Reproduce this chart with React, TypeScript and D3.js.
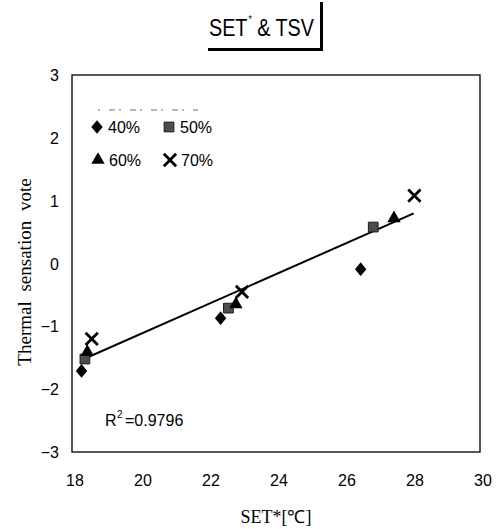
import * as d3 from 'd3';
import React from 'react';

// data
const humidity = ['40%', '50%', '60%', '70%'];
const set40 = [18.28, 22.37, 26.49];
const tsv40 = [-1.71, -0.87, -0.09];
const set50 = [18.38, 22.6, 26.86];
const tsv50 = [-1.52, -0.71, 0.58];
const set60 = [18.45, 22.82, 27.47];
const tsv60 = [-1.41, -0.65, 0.72];
const set70 = [18.58, 23.0, 28.07];
const tsv70 = [-1.2, -0.45, 1.08];
const xTicks = [18, 20, 22, 24, 26, 28, 30];
const yTicks = [-3, -2, -1, 0, 1, 2, 3];
// regression line
const fitSlope = 0.239;
const fitIntercept = -5.906;
const fitRange = [18.3, 28.05];
const rSquared = '0.9796';

const W = 501, H = 529;

// custom marker shapes
const diamond = {
  draw(ctx: any, size: number) {
    const r = Math.sqrt(size) / 2;
    ctx.moveTo(0, -r * 1.2);
    ctx.lineTo(r, 0);
    ctx.lineTo(0, r * 1.2);
    ctx.lineTo(-r, 0);
    ctx.closePath();
  },
};

const markerPath: Record<string, string> = {
  '40%': d3.symbol(diamond as any, 130)() as string,
  '50%': d3.symbol(d3.symbolSquare, 95)() as string,
  '60%': d3.symbol(d3.symbolTriangle, 78)() as string,
  '70%': d3.symbol(d3.symbolTimes, 100)() as string,
};

function Marker({ k, x, y }: { k: string; x: number; y: number }) {
  const isX = k === '70%';
  return (
    <path
      d={markerPath[k]}
      transform={`translate(${x},${y})`}
      fill={isX ? 'none' : k === '50%' ? '#4d4d4d' : '#000'}
      stroke={isX ? '#000' : k === '50%' ? '#1a1a1a' : 'none'}
      strokeWidth={isX ? 2.8 : 1}
    />
  );
}

export default function App() {
  const x = d3.scaleLinear().domain([18, 30]).range([72, 480]);
  const y = d3.scaleLinear().domain([-3, 3]).range([452, 75]);

  const series = [
    { k: humidity[0], xs: set40, ys: tsv40 },
    { k: humidity[1], xs: set50, ys: tsv50 },
    { k: humidity[2], xs: set60, ys: tsv60 },
    { k: humidity[3], xs: set70, ys: tsv70 },
  ];

  const fitLine = d3.line<number>()
    .x(d => x(d))
    .y(d => y(fitSlope * d + fitIntercept))(fitRange) as string;

  const legendPos = [
    [97, 127], [169, 127], [98, 160], [170, 160],
  ];

  const sans = "'Liberation Sans', Arial, sans-serif";
  const serif = "'Liberation Serif', 'Times New Roman', serif";

  return (
    <svg width={W} height={H} style={{ position: 'absolute', left: 0, top: 0, background: '#fff' }}>
      <rect width={W} height={H} fill="#fff" />

      {/* title box, narrowed like the condensed original */}
      <g transform="translate(209,36) scale(0.86,1)" fontFamily={sans}>
        <text x={0} y={0} fontSize={23}>SET</text>
        <text x={46} y={-13} fontSize={10}>*</text>
        <text x={56} y={0} fontSize={23}>&amp; TSV</text>
      </g>
      <line x1={208} x2={323} y1={49.5} y2={49.5} stroke="#000" strokeWidth={3} />
      <line x1={321.5} x2={321.5} y1={2} y2={50} stroke="#000" strokeWidth={3} />

      {/* plot frame */}
      <rect x={x(18)} y={y(3)} width={x(30) - x(18)} height={y(-3) - y(3)}
        fill="none" stroke="#111" strokeWidth={1.4} />

      {/* ticks */}
      {yTicks.map(t => (
        <text key={t} x={59} y={y(t) + 6} textAnchor="end" fontFamily={sans} fontSize={16}>
          {t < 0 ? `\u2212${-t}` : t}
        </text>
      ))}
      {xTicks.map(t => (
        <text key={t} x={x(t) + 3} y={486} textAnchor="middle" fontFamily={sans} fontSize={16}>{t}</text>
      ))}

      {/* axis titles */}
      <text x={276} y={523} textAnchor="middle" fontFamily={serif} fontSize={18}>SET*[℃]</text>
      <text transform={`translate(31,${272}) rotate(-90)`} textAnchor="middle" fontFamily={serif}
        fontSize={19} wordSpacing={5}>Thermal sensation vote</text>

      {/* legend */}
      <line x1={98} x2={198} y1={110} y2={110} stroke="#333" strokeWidth={1} strokeDasharray="2 9 6 4" opacity={0.7} />
      {humidity.map((k, i) => (
        <g key={k}>
          <Marker k={k} x={legendPos[i][0]} y={legendPos[i][1]} />
          <text x={legendPos[i][0] + 11} y={legendPos[i][1] + 6} fontFamily={sans} fontSize={16}>{k}</text>
        </g>
      ))}

      {/* regression line */}
      <path d={fitLine} fill="none" stroke="#000" strokeWidth={2} />

      {/* points */}
      {series.map(s => s.xs.map((v, i) => (
        <Marker key={s.k + i} k={s.k} x={x(v)} y={y(s.ys[i])} />
      )))}

      {/* R squared */}
      <text x={105} y={426} fontFamily={sans} fontSize={16}>R</text>
      <text x={117} y={418} fontFamily={sans} fontSize={10}>2</text>
      <text x={125} y={426} fontFamily={sans} fontSize={16}>{'=' + rSquared}</text>
    </svg>
  );
}
